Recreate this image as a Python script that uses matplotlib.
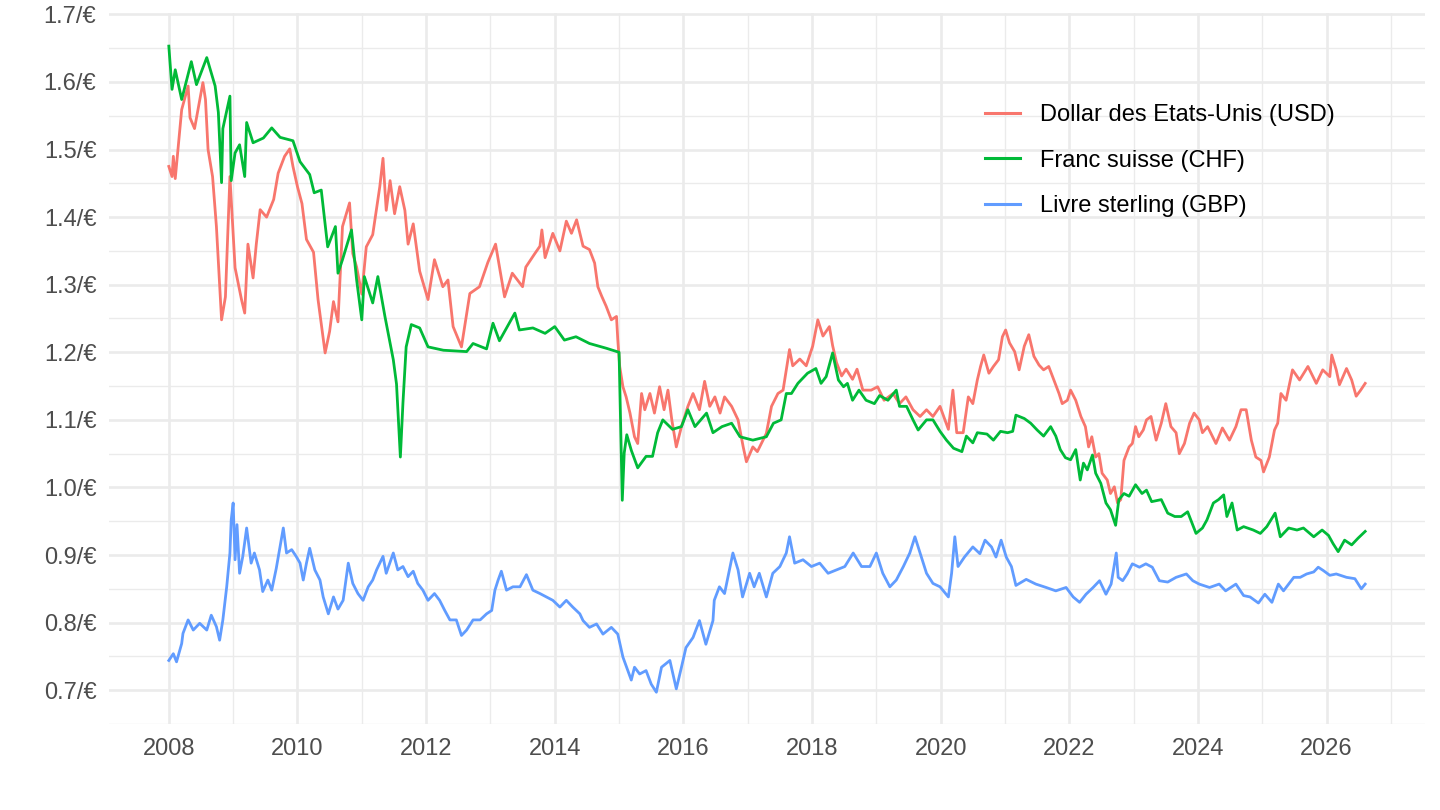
import matplotlib
matplotlib.use('Agg')
import matplotlib.pyplot as plt
from matplotlib.ticker import MultipleLocator, FuncFormatter

# values (decimal year, rate per euro)
usd_dates = [2008.00, 2008.05, 2008.07, 2008.10, 2008.20, 2008.30, 2008.33, 2008.40, 2008.53, 2008.57,
             2008.61, 2008.68, 2008.74, 2008.82, 2008.88, 2008.95, 2009.03, 2009.13, 2009.18, 2009.23,
             2009.31, 2009.36, 2009.42, 2009.52, 2009.63, 2009.70, 2009.80, 2009.88, 2009.93, 2010.00,
             2010.07, 2010.14, 2010.25, 2010.32, 2010.43, 2010.50, 2010.56, 2010.63, 2010.70, 2010.81,
             2010.86, 2010.92, 2011.00, 2011.07, 2011.17, 2011.28, 2011.33, 2011.38, 2011.44, 2011.51,
             2011.59, 2011.67, 2011.72, 2011.80, 2011.90, 2012.03, 2012.13, 2012.26, 2012.34, 2012.42,
             2012.55, 2012.68, 2012.83, 2012.96, 2013.08, 2013.22, 2013.34, 2013.50, 2013.55, 2013.69,
             2013.77, 2013.80, 2013.85, 2013.97, 2014.08, 2014.18, 2014.26, 2014.34, 2014.44, 2014.54,
             2014.62, 2014.67, 2014.73, 2014.80, 2014.88, 2014.96, 2014.98, 2015.01, 2015.06, 2015.11,
             2015.17, 2015.24, 2015.29, 2015.35, 2015.40, 2015.48, 2015.55, 2015.63, 2015.70, 2015.76,
             2015.82, 2015.89, 2015.97, 2016.07, 2016.15, 2016.25, 2016.33, 2016.41, 2016.49, 2016.57,
             2016.64, 2016.75, 2016.85, 2016.93, 2016.98, 2017.08, 2017.15, 2017.29, 2017.37, 2017.47,
             2017.55, 2017.65, 2017.70, 2017.81, 2017.91, 2018.01, 2018.09, 2018.17, 2018.27, 2018.32,
             2018.38, 2018.46, 2018.53, 2018.63, 2018.70, 2018.79, 2018.92, 2019.02, 2019.12, 2019.26,
             2019.36, 2019.46, 2019.57, 2019.68, 2019.78, 2019.88, 2019.99, 2020.12, 2020.19, 2020.25,
             2020.35, 2020.43, 2020.50, 2020.57, 2020.62, 2020.67, 2020.75, 2020.82, 2020.90, 2020.96,
             2021.01, 2021.07, 2021.15, 2021.22, 2021.30, 2021.37, 2021.45, 2021.53, 2021.60, 2021.68,
             2021.76, 2021.84, 2021.89, 2021.97, 2022.02, 2022.10, 2022.18, 2022.25, 2022.30, 2022.35,
             2022.41, 2022.46, 2022.51, 2022.59, 2022.64, 2022.70, 2022.75, 2022.80, 2022.85, 2022.93,
             2022.98, 2023.03, 2023.08, 2023.15, 2023.20, 2023.27, 2023.35, 2023.43, 2023.50, 2023.58,
             2023.66, 2023.71, 2023.79, 2023.87, 2023.94, 2024.02, 2024.07, 2024.15, 2024.28, 2024.38,
             2024.49, 2024.59, 2024.67, 2024.75, 2024.83, 2024.90, 2024.98, 2025.02, 2025.11, 2025.19,
             2025.24, 2025.29, 2025.37, 2025.47, 2025.58, 2025.71, 2025.84, 2025.94, 2026.05, 2026.08,
             2026.15, 2026.20, 2026.31, 2026.39, 2026.46, 2026.53, 2026.60]
usd_vals = [1.475, 1.460, 1.490, 1.457, 1.559, 1.594, 1.547, 1.531, 1.599, 1.574,
            1.500, 1.460, 1.386, 1.248, 1.282, 1.460, 1.325, 1.278, 1.258, 1.360,
            1.310, 1.360, 1.411, 1.400, 1.426, 1.465, 1.490, 1.501, 1.475, 1.445,
            1.420, 1.367, 1.348, 1.278, 1.199, 1.231, 1.275, 1.245, 1.386, 1.421,
            1.346, 1.326, 1.286, 1.356, 1.374, 1.445, 1.487, 1.410, 1.454, 1.405,
            1.445, 1.410, 1.360, 1.390, 1.320, 1.278, 1.337, 1.297, 1.307, 1.238,
            1.208, 1.287, 1.297, 1.333, 1.360, 1.282, 1.317, 1.297, 1.326, 1.346,
            1.357, 1.381, 1.340, 1.376, 1.350, 1.394, 1.376, 1.396, 1.357, 1.352,
            1.332, 1.297, 1.283, 1.268, 1.248, 1.253, 1.219, 1.179, 1.149, 1.134,
            1.110, 1.075, 1.065, 1.139, 1.115, 1.139, 1.110, 1.149, 1.115, 1.144,
            1.100, 1.060, 1.090, 1.120, 1.139, 1.115, 1.157, 1.120, 1.134, 1.110,
            1.134, 1.120, 1.100, 1.060, 1.038, 1.060, 1.053, 1.080, 1.120, 1.139,
            1.144, 1.204, 1.180, 1.190, 1.180, 1.209, 1.248, 1.224, 1.238, 1.210,
            1.185, 1.165, 1.175, 1.160, 1.175, 1.144, 1.144, 1.149, 1.129, 1.139,
            1.124, 1.134, 1.115, 1.105, 1.115, 1.105, 1.120, 1.086, 1.144, 1.081,
            1.081, 1.134, 1.124, 1.159, 1.179, 1.196, 1.169, 1.179, 1.189, 1.223,
            1.233, 1.214, 1.201, 1.174, 1.209, 1.226, 1.194, 1.181, 1.174, 1.179,
            1.159, 1.139, 1.124, 1.129, 1.144, 1.129, 1.105, 1.090, 1.060, 1.075,
            1.045, 1.050, 1.021, 1.011, 0.991, 1.001, 0.977, 0.982, 1.040, 1.060,
            1.065, 1.090, 1.075, 1.085, 1.100, 1.105, 1.070, 1.095, 1.124, 1.090,
            1.081, 1.050, 1.065, 1.095, 1.110, 1.100, 1.081, 1.090, 1.065, 1.088,
            1.070, 1.090, 1.115, 1.115, 1.070, 1.045, 1.040, 1.023, 1.045, 1.085,
            1.095, 1.139, 1.129, 1.174, 1.159, 1.179, 1.154, 1.174, 1.164, 1.196,
            1.174, 1.152, 1.176, 1.159, 1.135, 1.144, 1.154]

chf_dates = [2008.00, 2008.05, 2008.10, 2008.20, 2008.35, 2008.43, 2008.59, 2008.72, 2008.77, 2008.82,
             2008.84, 2008.95, 2008.97, 2009.03, 2009.10, 2009.18, 2009.21, 2009.31, 2009.47, 2009.60,
             2009.73, 2009.93, 2010.04, 2010.19, 2010.26, 2010.37, 2010.47, 2010.59, 2010.63, 2010.70,
             2010.84, 2010.92, 2011.00, 2011.04, 2011.17, 2011.25, 2011.36, 2011.49, 2011.54, 2011.60,
             2011.64, 2011.69, 2011.77, 2011.90, 2012.03, 2012.27, 2012.63, 2012.73, 2012.94, 2013.04,
             2013.14, 2013.38, 2013.45, 2013.66, 2013.85, 2014.00, 2014.15, 2014.33, 2014.54, 2014.80,
             2015.00, 2015.05, 2015.08, 2015.12, 2015.19, 2015.29, 2015.42, 2015.52, 2015.60, 2015.68,
             2015.83, 2015.97, 2016.07, 2016.18, 2016.36, 2016.46, 2016.60, 2016.75, 2016.88, 2017.08,
             2017.29, 2017.40, 2017.52, 2017.60, 2017.68, 2017.78, 2017.93, 2018.06, 2018.14, 2018.22,
             2018.32, 2018.41, 2018.49, 2018.55, 2018.63, 2018.73, 2018.84, 2018.97, 2019.05, 2019.18,
             2019.31, 2019.36, 2019.47, 2019.57, 2019.65, 2019.78, 2019.88, 2019.99, 2020.09, 2020.20,
             2020.33, 2020.40, 2020.50, 2020.57, 2020.72, 2020.82, 2020.93, 2021.04, 2021.12, 2021.17,
             2021.30, 2021.40, 2021.50, 2021.60, 2021.71, 2021.79, 2021.86, 2021.94, 2022.02, 2022.10,
             2022.17, 2022.22, 2022.28, 2022.36, 2022.41, 2022.49, 2022.57, 2022.64, 2022.72, 2022.77,
             2022.85, 2022.93, 2023.03, 2023.13, 2023.20, 2023.28, 2023.43, 2023.53, 2023.64, 2023.74,
             2023.84, 2023.97, 2024.07, 2024.14, 2024.24, 2024.32, 2024.40, 2024.45, 2024.53, 2024.61,
             2024.71, 2024.86, 2024.97, 2025.07, 2025.20, 2025.28, 2025.41, 2025.54, 2025.64, 2025.80,
             2025.93, 2026.03, 2026.10, 2026.18, 2026.28, 2026.39, 2026.49, 2026.60]
chf_vals = [1.653, 1.589, 1.618, 1.574, 1.630, 1.596, 1.636, 1.594, 1.555, 1.451,
            1.531, 1.579, 1.454, 1.495, 1.507, 1.460, 1.540, 1.510, 1.517, 1.532,
            1.518, 1.513, 1.482, 1.463, 1.436, 1.440, 1.356, 1.386, 1.317, 1.337,
            1.381, 1.307, 1.248, 1.312, 1.273, 1.312, 1.253, 1.189, 1.153, 1.045,
            1.125, 1.208, 1.241, 1.236, 1.208, 1.203, 1.201, 1.213, 1.205, 1.243,
            1.217, 1.258, 1.233, 1.236, 1.228, 1.238, 1.218, 1.223, 1.213, 1.206,
            1.200, 0.981, 1.051, 1.078, 1.055, 1.029, 1.046, 1.046, 1.081, 1.100,
            1.086, 1.090, 1.115, 1.090, 1.110, 1.081, 1.090, 1.095, 1.075, 1.070,
            1.075, 1.095, 1.100, 1.139, 1.139, 1.154, 1.169, 1.176, 1.154, 1.164,
            1.199, 1.159, 1.149, 1.154, 1.129, 1.144, 1.129, 1.124, 1.136, 1.129,
            1.144, 1.120, 1.120, 1.100, 1.085, 1.100, 1.100, 1.083, 1.070, 1.058,
            1.053, 1.076, 1.066, 1.081, 1.079, 1.070, 1.083, 1.081, 1.083, 1.107,
            1.102, 1.095, 1.085, 1.076, 1.090, 1.076, 1.056, 1.044, 1.041, 1.056,
            1.011, 1.036, 1.026, 1.048, 1.021, 1.006, 0.977, 0.967, 0.944, 0.982,
            0.991, 0.987, 1.004, 0.991, 0.996, 0.979, 0.982, 0.962, 0.957, 0.957,
            0.964, 0.932, 0.940, 0.952, 0.977, 0.982, 0.989, 0.957, 0.977, 0.937,
            0.942, 0.937, 0.932, 0.942, 0.962, 0.927, 0.940, 0.937, 0.940, 0.927,
            0.937, 0.929, 0.917, 0.905, 0.922, 0.915, 0.925, 0.935]

gbp_dates = [2008.00, 2008.07, 2008.12, 2008.20, 2008.22, 2008.30, 2008.38, 2008.48, 2008.59, 2008.66,
             2008.74, 2008.79, 2008.84, 2008.90, 2008.95, 2008.97, 2009.00, 2009.03, 2009.06, 2009.10,
             2009.15, 2009.21, 2009.28, 2009.33, 2009.41, 2009.46, 2009.54, 2009.60, 2009.67, 2009.75,
             2009.78, 2009.83, 2009.91, 2009.98, 2010.04, 2010.09, 2010.14, 2010.19, 2010.27, 2010.35,
             2010.40, 2010.48, 2010.56, 2010.63, 2010.71, 2010.79, 2010.86, 2010.94, 2011.02, 2011.10,
             2011.17, 2011.23, 2011.33, 2011.38, 2011.49, 2011.56, 2011.64, 2011.72, 2011.80, 2011.87,
             2011.95, 2012.03, 2012.13, 2012.21, 2012.29, 2012.37, 2012.47, 2012.55, 2012.63, 2012.73,
             2012.84, 2012.94, 2013.02, 2013.07, 2013.12, 2013.17, 2013.25, 2013.35, 2013.46, 2013.56,
             2013.66, 2013.77, 2013.87, 2013.97, 2014.08, 2014.18, 2014.28, 2014.39, 2014.44, 2014.54,
             2014.65, 2014.75, 2014.88, 2014.98, 2015.06, 2015.19, 2015.24, 2015.32, 2015.42, 2015.50,
             2015.58, 2015.66, 2015.79, 2015.89, 2015.97, 2016.04, 2016.15, 2016.25, 2016.35, 2016.46,
             2016.48, 2016.56, 2016.64, 2016.77, 2016.85, 2016.92, 2017.03, 2017.10, 2017.18, 2017.29,
             2017.39, 2017.50, 2017.60, 2017.65, 2017.73, 2017.86, 2017.99, 2018.12, 2018.25, 2018.38,
             2018.51, 2018.64, 2018.77, 2018.90, 2019.00, 2019.10, 2019.21, 2019.31, 2019.42, 2019.52,
             2019.60, 2019.68, 2019.78, 2019.88, 2019.99, 2020.12, 2020.17, 2020.22, 2020.27, 2020.37,
             2020.50, 2020.61, 2020.69, 2020.79, 2020.86, 2020.94, 2021.02, 2021.10, 2021.17, 2021.33,
             2021.48, 2021.64, 2021.79, 2021.95, 2022.06, 2022.16, 2022.26, 2022.37, 2022.47, 2022.57,
             2022.65, 2022.73, 2022.76, 2022.83, 2022.90, 2022.98, 2023.09, 2023.19, 2023.29, 2023.40,
             2023.53, 2023.66, 2023.82, 2023.92, 2024.02, 2024.18, 2024.33, 2024.43, 2024.59, 2024.71,
             2024.81, 2024.94, 2025.04, 2025.15, 2025.25, 2025.33, 2025.41, 2025.49, 2025.59, 2025.69,
             2025.80, 2025.87, 2025.95, 2026.05, 2026.15, 2026.31, 2026.44, 2026.54, 2026.60]
gbp_vals = [0.744, 0.754, 0.742, 0.769, 0.784, 0.804, 0.789, 0.799, 0.789, 0.811,
            0.794, 0.774, 0.804, 0.853, 0.903, 0.952, 0.977, 0.893, 0.945, 0.873,
            0.898, 0.940, 0.888, 0.903, 0.878, 0.846, 0.863, 0.848, 0.880, 0.923,
            0.940, 0.903, 0.908, 0.898, 0.888, 0.863, 0.888, 0.910, 0.878, 0.863,
            0.838, 0.813, 0.838, 0.820, 0.833, 0.888, 0.858, 0.843, 0.833, 0.853,
            0.863, 0.878, 0.898, 0.873, 0.903, 0.878, 0.883, 0.868, 0.876, 0.858,
            0.848, 0.833, 0.843, 0.833, 0.818, 0.804, 0.804, 0.781, 0.789, 0.804,
            0.804, 0.813, 0.818, 0.848, 0.863, 0.876, 0.848, 0.853, 0.853, 0.871,
            0.848, 0.843, 0.838, 0.833, 0.823, 0.833, 0.823, 0.813, 0.803, 0.793,
            0.798, 0.783, 0.793, 0.783, 0.749, 0.715, 0.734, 0.724, 0.729, 0.709,
            0.697, 0.734, 0.744, 0.702, 0.734, 0.763, 0.778, 0.803, 0.768, 0.803,
            0.833, 0.853, 0.843, 0.903, 0.878, 0.838, 0.873, 0.853, 0.873, 0.838,
            0.873, 0.883, 0.903, 0.927, 0.888, 0.893, 0.883, 0.888, 0.873, 0.878,
            0.883, 0.903, 0.883, 0.883, 0.903, 0.873, 0.853, 0.863, 0.883, 0.903,
            0.927, 0.903, 0.873, 0.858, 0.853, 0.838, 0.873, 0.927, 0.883, 0.897,
            0.912, 0.902, 0.922, 0.912, 0.897, 0.922, 0.897, 0.883, 0.855, 0.864,
            0.857, 0.852, 0.847, 0.852, 0.838, 0.830, 0.842, 0.852, 0.862, 0.842,
            0.857, 0.903, 0.867, 0.862, 0.872, 0.887, 0.882, 0.887, 0.882, 0.862,
            0.860, 0.867, 0.872, 0.862, 0.857, 0.852, 0.857, 0.847, 0.857, 0.840,
            0.838, 0.829, 0.842, 0.830, 0.857, 0.847, 0.857, 0.867, 0.867, 0.872,
            0.875, 0.882, 0.877, 0.870, 0.872, 0.867, 0.865, 0.850, 0.857]

labels = ["Dollar des Etats-Unis (USD)", "Franc suisse (CHF)", "Livre sterling (GBP)"]
colors = ["#F8766D", "#00BA38", "#619CFF"]

plt.rcParams['font.family'] = ['Liberation Sans', 'DejaVu Sans']

fig = plt.figure(figsize=(14.4, 8.1), dpi=100)
ax = fig.add_axes([109 / 1440, 1 - 724 / 810, (1425 - 109) / 1440, (724 - 13) / 810])

series = [(usd_dates, usd_vals), (chf_dates, chf_vals), (gbp_dates, gbp_vals)]
for (d, v), lab, col in zip(series, labels, colors):
    ax.plot(d, v, color=col, lw=2.0, label=lab, solid_joinstyle='round')

ax.set_xlim(2007.07, 2027.53)
ax.set_ylim(0.650, 1.702)
ax.xaxis.set_major_locator(MultipleLocator(2))
ax.xaxis.set_minor_locator(MultipleLocator(1))
ax.yaxis.set_major_locator(MultipleLocator(0.1))
ax.yaxis.set_minor_locator(MultipleLocator(0.05))
ax.xaxis.set_major_formatter(FuncFormatter(lambda x, p: f"{x:.0f}"))
ax.yaxis.set_major_formatter(FuncFormatter(lambda y, p: f"{y:.1f}/€"))

ax.grid(which='major', color='#EBEBEB', lw=1.9)
ax.grid(which='minor', color='#EBEBEB', lw=1.0)
ax.set_axisbelow(True)
for s in ax.spines.values():
    s.set_visible(False)
ax.tick_params(which='both', length=0)
ax.tick_params(axis='x', labelsize=17, labelcolor='#4D4D4D', pad=10)
ax.tick_params(axis='y', labelsize=17, labelcolor='#4D4D4D', pad=9)

leg = ax.legend(loc='upper left', bbox_to_anchor=(985 / 1440, 1 - 104 / 810),
                bbox_transform=fig.transFigure, frameon=False, fontsize=17,
                handlelength=1.5, handletextpad=0.85, labelspacing=1.0, borderpad=0,
                borderaxespad=0)
for h in leg.get_lines():
    h.set_linewidth(2.2)

fig.savefig('out.png', dpi=100)
